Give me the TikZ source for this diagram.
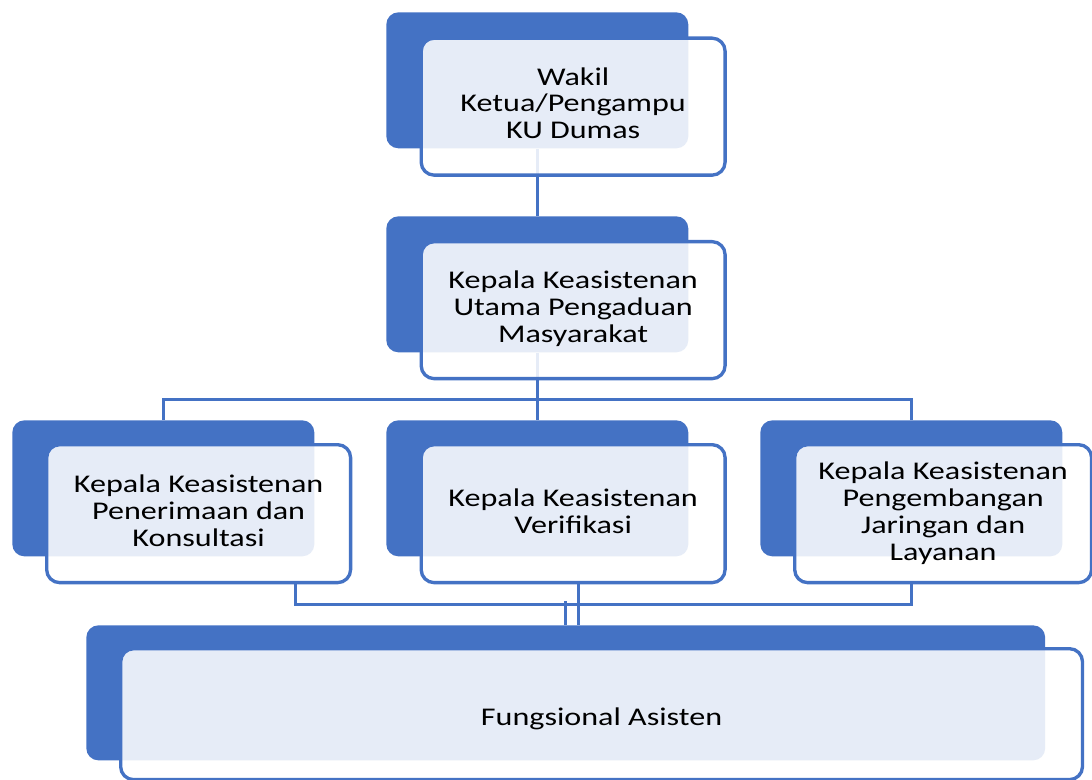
\documentclass[tikz,border=0pt]{standalone}
\usepackage{fontspec}
\setmainfont{Carlito}[FakeStretch=1.26]
\definecolor{orgblue}{RGB}{68,114,196}
\usetikzlibrary{positioning, calc, backgrounds}

\begin{document}
\begin{tikzpicture}[x=0.02cm, y=-0.02cm,
  back/.style={
    rectangle, rounded corners=0.24cm,
    fill=orgblue, draw=none, inner sep=0pt, anchor=north west,
    minimum width=6.04cm, minimum height=2.72cm,
  },
  front/.style={
    rectangle, rounded corners=0.26cm,
    draw=orgblue, line width=1.9pt,
    fill=white, fill opacity=0.87, text opacity=1,
    inner sep=0pt, anchor=north west,
    minimum width=6.08cm, minimum height=2.74cm,
    font=\fontsize{14.5}{15.3}\selectfont, align=center, text=black,
  },
  conn/.style={
    draw=orgblue, line width=1.8pt,
  },
]
\useasboundingbox (0,0) rectangle (1092,780);

% --- Back boxes ---
\node[back] (wk-b) at (386, 12) {};
\node[back] (kua-b) at (386, 216) {};
\node[back] (pen-b) at (12, 420) {};
\node[back] (ver-b) at (386, 420) {};
\node[back] (pjl-b) at (760, 420) {};
\node[back, minimum width=19.18cm, minimum height=2.7cm] (fa-b) at (86, 625) {};

% --- Front boxes ---
\node[front] (wk) at (419.5, 36.5) {Wakil\\Ketua/Pengampu\\KU Dumas\rule[-4pt]{0pt}{0pt}};
\node[front] (kua) at (419.5, 240) {Kepala Keasistenan\\Utama Pengaduan\\Masyarakat\rule[-4pt]{0pt}{0pt}};
\node[front, minimum height=2.76cm] (pen) at (45, 443) {Kepala Keasistenan\\Penerimaan dan\\Konsultasi\rule[-3pt]{0pt}{0pt}};
\node[front, minimum height=2.76cm] (ver) at (419.5, 443) {Kepala Keasistenan\\Verifikasi\rule[-3pt]{0pt}{0pt}};
\node[front, minimum height=2.76cm, minimum width=5.94cm] (pjl) at (793, 443) {Kepala Keasistenan\\Pengembangan\\Jaringan dan\\Layanan\rule[-3pt]{0pt}{0pt}};
\node[front, minimum width=19.24cm, minimum height=2.62cm] (fa) at (119, 647) {\rule{0pt}{15.5pt}Fungsional Asisten};

% --- Connectors ---
\begin{scope}[on background layer]
  \draw[conn] (wk-b.south) -- (kua-b.north);
  \draw[conn] (kua-b.south) -- ++(0, 47) coordinate (j1);
  \draw[conn] (j1) -| (pen-b.north);
  \draw[conn] (j1) -| (pjl-b.north);
  \draw[conn] (j1) -- (ver-b.north);
  \coordinate (pen-x) at ($(pen.south)+(97, 0)$);
  \coordinate (pjl-x) at (pjl-b.south |- pjl.south);
  \draw[conn] (pen-x) |- ($(pjl-x)+(0, 20)$) -- (pjl-x);
  \draw[conn] (fa-b.north) -- ++(0, -24);
  \coordinate (ver-x) at ($(ver.south)+(5.5, -3)$);
  \draw[conn] (ver-x) -- (ver-x |- fa-b.north);
\end{scope}

\end{tikzpicture}
\end{document}
